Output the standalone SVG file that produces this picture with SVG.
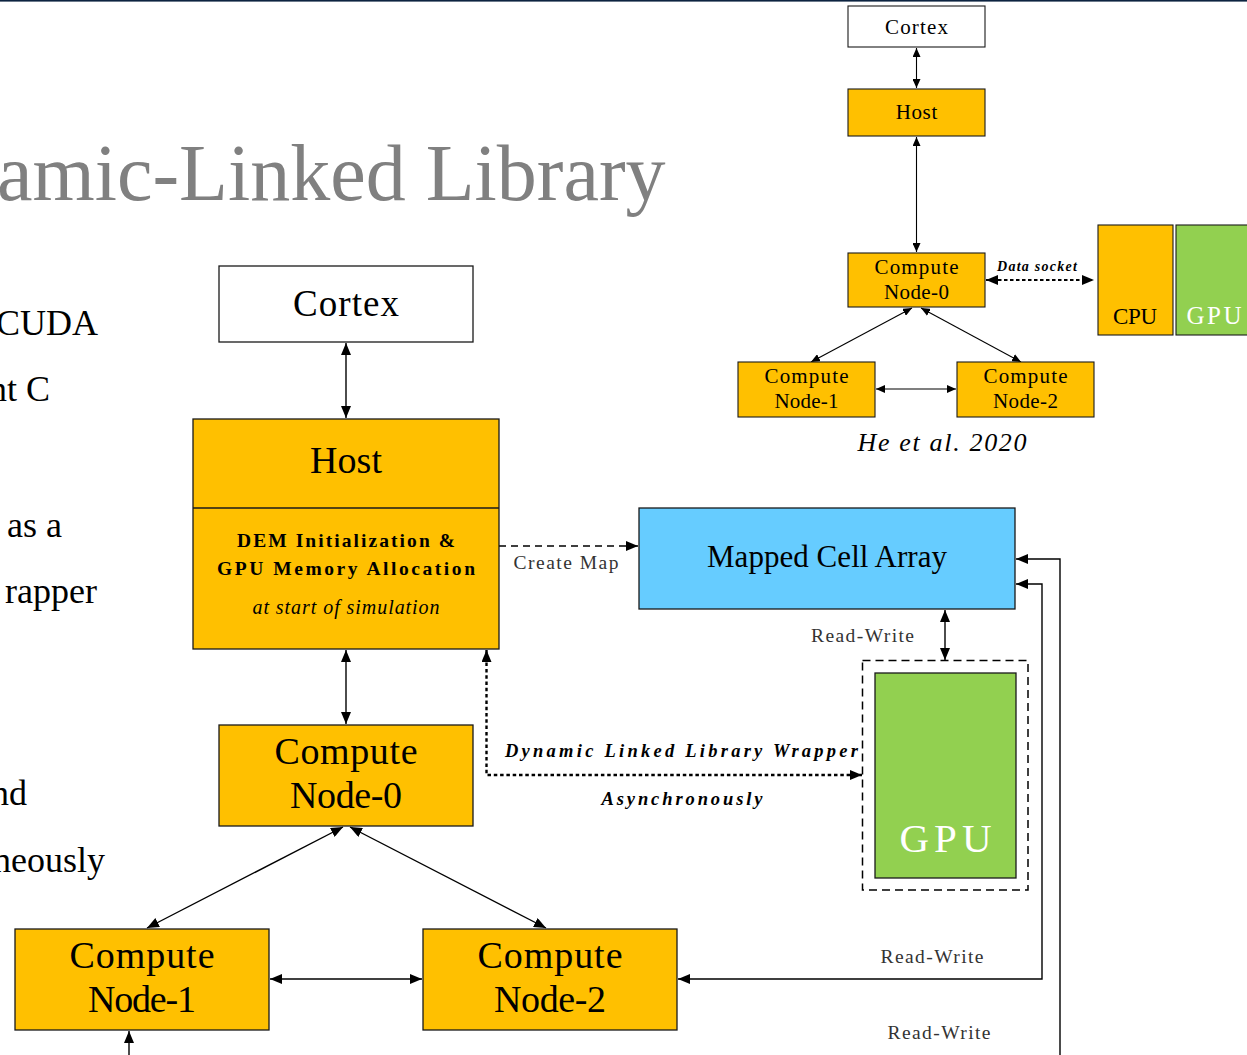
<svg xmlns="http://www.w3.org/2000/svg" width="1247" height="1055" viewBox="0 0 1247 1055">
<style>
.box{stroke:#1a1a1a;stroke-width:1.3}
.sbox{stroke:#1a1a1a;stroke-width:1.1}
.orange{fill:#ffc000}
.white{fill:#fff}
.blue{fill:#66ccff}
.green{fill:#92d050}
.t{font-family:"Liberation Serif","DejaVu Serif",serif;fill:#000}
.c{text-anchor:middle}
.e{text-anchor:end}
.ln{fill:none;stroke:#000;stroke-width:1.4}
.sln{fill:none;stroke:#000;stroke-width:1.1}
.dash{fill:none;stroke:#000;stroke-width:1.4;stroke-dasharray:7 5}
.dot{fill:none;stroke:#000;stroke-width:2.4;stroke-dasharray:3.5 2.8}
.lbl{font-size:19.5px;fill:#333}
.bi{font-weight:bold;font-style:italic}
</style>
<defs>
<marker id="ah" viewBox="0 0 12 10" refX="12" refY="5" markerWidth="12" markerHeight="10" markerUnits="userSpaceOnUse" orient="auto-start-reverse"><path d="M0,0 L12,5 L0,10 z" fill="#000"/></marker>
<marker id="ahs" viewBox="0 0 9 8" refX="9" refY="4" markerWidth="9" markerHeight="8" markerUnits="userSpaceOnUse" orient="auto-start-reverse"><path d="M0,0 L9,4 L0,8 z" fill="#000"/></marker>
</defs>

<!-- page rule and heading -->
<rect x="0" y="0" width="1247" height="1.6" fill="#0c2340"/>
<text class="t" x="-3" y="200" font-size="80" style="fill:#808080">amic-Linked Library</text>

<!-- body text -->
<g class="t e" font-size="36">
<text x="98" y="335">CUDA</text>
<text x="50" y="401">nt C</text>
<text x="62" y="537">as a</text>
<text x="97" y="603">rapper</text>
<text x="27" y="805">nd</text>
<text x="105" y="872">neously</text>
</g>

<!-- main diagram: connectors -->
<g id="connectors">
<path class="ln" d="M346,343 L346,418" marker-start="url(#ah)" marker-end="url(#ah)"/>
<path class="ln" d="M346,650 L346,724" marker-start="url(#ah)" marker-end="url(#ah)"/>
<path class="ln" d="M343,827 L147,928" marker-start="url(#ah)" marker-end="url(#ah)"/>
<path class="ln" d="M350,827 L546,928" marker-start="url(#ah)" marker-end="url(#ah)"/>
<path class="ln" d="M270,979 L422,979" marker-start="url(#ah)" marker-end="url(#ah)"/>
<path class="ln" d="M129,1055 L129,1031" marker-end="url(#ah)"/>
<path class="dash" d="M499,546 L638,546" marker-end="url(#ah)"/>
<path class="ln" d="M945,610 L945,660" marker-start="url(#ah)" marker-end="url(#ah)"/>
<path class="dot" d="M486.5,650 L486.5,775 L862,775" marker-start="url(#ah)" marker-end="url(#ah)"/>
<path class="ln" d="M678,979 L1042,979 L1042,584 L1016,584" marker-start="url(#ah)" marker-end="url(#ah)"/>
<path class="ln" d="M1060,1055 L1060,559 L1016,559" marker-end="url(#ah)"/>
<g class="t c lbl">
<text x="566" y="569" textLength="105">Create Map</text>
<text x="862.5" y="642" textLength="103">Read-Write</text>
<text x="932" y="963" textLength="103">Read-Write</text>
<text x="939" y="1039" textLength="103">Read-Write</text>
</g>
<g class="t c bi" font-size="18.5">
<text x="681.5" y="757" textLength="353">Dynamic Linked Library Wrapper</text>
<text x="682" y="805" textLength="161">Asynchronously</text>
</g>
</g>

<!-- main diagram: nodes -->
<g id="cortex">
<rect class="box white" x="219" y="266" width="254" height="76"/>
<text class="t c" x="346" y="316" font-size="37" textLength="106">Cortex</text>
</g>
<g id="host">
<rect class="box orange" x="193" y="419" width="306" height="230"/>
<line class="box" x1="193" y1="508" x2="499" y2="508"/>
<text class="t c" x="346" y="473" font-size="38" textLength="72">Host</text>
<text class="t c" x="346" y="547" font-size="19.5" font-weight="bold" textLength="218">DEM Initialization &amp;</text>
<text class="t c" x="346" y="575" font-size="19.5" font-weight="bold" textLength="258">GPU Memory Allocation</text>
<text class="t c" x="346" y="614" font-size="20" font-style="italic" textLength="187">at start of simulation</text>
</g>
<g id="node0">
<rect class="box orange" x="219" y="725" width="254" height="101"/>
<text class="t c" x="346" y="764" font-size="38" textLength="143">Compute</text>
<text class="t c" x="346" y="808" font-size="38" textLength="112">Node-0</text>
</g>
<g id="node1">
<rect class="box orange" x="15" y="929" width="254" height="101"/>
<text class="t c" x="142" y="968" font-size="38" textLength="145">Compute</text>
<text class="t c" x="142" y="1012" font-size="38" textLength="108">Node-1</text>
</g>
<g id="node2">
<rect class="box orange" x="423" y="929" width="254" height="101"/>
<text class="t c" x="550" y="968" font-size="38" textLength="145">Compute</text>
<text class="t c" x="550" y="1012" font-size="38" textLength="112">Node-2</text>
</g>
<g id="mapped">
<rect class="box blue" x="639" y="508" width="376" height="101"/>
<text class="t c" x="827" y="567" font-size="31" textLength="240">Mapped Cell Array</text>
</g>
<g id="gpu">
<rect x="862.5" y="660.5" width="165.5" height="229.5" fill="none" stroke="#000" stroke-width="1.5" stroke-dasharray="8 5"/>
<rect class="box green" x="875" y="673" width="141" height="205"/>
<text class="t c" x="945.5" y="852" font-size="41" textLength="92" style="fill:#fff">GPU</text>
</g>

<!-- small diagram -->
<g id="small-connectors">
<path class="sln" d="M916.5,48 L916.5,88" marker-start="url(#ahs)" marker-end="url(#ahs)"/>
<path class="sln" d="M916.5,137 L916.5,252" marker-start="url(#ahs)" marker-end="url(#ahs)"/>
<path class="sln" d="M912,308 L811,362" marker-start="url(#ahs)" marker-end="url(#ahs)"/>
<path class="sln" d="M921,308 L1021,362" marker-start="url(#ahs)" marker-end="url(#ahs)"/>
<path class="sln" d="M876,389 L956,389" marker-start="url(#ahs)" marker-end="url(#ahs)"/>
<path fill="none" stroke="#000" stroke-width="2" stroke-dasharray="3.5 2.5" d="M986,280 L1094,280" marker-start="url(#ah)" marker-end="url(#ah)"/>
<text class="t c bi" x="1037" y="271" font-size="14" textLength="80">Data socket</text>
</g>
<g id="s-cortex">
<rect class="sbox white" x="848" y="6" width="137" height="41"/>
<text class="t c" x="916.5" y="34" font-size="21" textLength="63">Cortex</text>
</g>
<g id="s-host">
<rect class="sbox orange" x="848" y="89" width="137" height="47"/>
<text class="t c" x="916.5" y="119" font-size="21" textLength="41.5">Host</text>
</g>
<g id="s-node0">
<rect class="sbox orange" x="848" y="253" width="137" height="54"/>
<text class="t c" x="916.5" y="274" font-size="21" textLength="84">Compute</text>
<text class="t c" x="916.5" y="299" font-size="21" textLength="65">Node-0</text>
</g>
<g id="s-node1">
<rect class="sbox orange" x="738" y="362" width="137" height="55"/>
<text class="t c" x="806.5" y="383" font-size="21" textLength="84">Compute</text>
<text class="t c" x="806.5" y="408" font-size="21" textLength="64">Node-1</text>
</g>
<g id="s-node2">
<rect class="sbox orange" x="957" y="362" width="137" height="55"/>
<text class="t c" x="1025.5" y="383" font-size="21" textLength="84">Compute</text>
<text class="t c" x="1025.5" y="408" font-size="21" textLength="65">Node-2</text>
</g>
<g id="s-cpu">
<rect class="sbox orange" x="1098" y="225" width="75" height="110"/>
<text class="t c" x="1135" y="324" font-size="23" textLength="44">CPU</text>
</g>
<g id="s-gpu">
<rect class="sbox green" x="1176" y="225" width="80" height="110"/>
<text class="t c" x="1214" y="324" font-size="25" textLength="55" style="fill:#fff">GPU</text>
</g>
<text class="t c" x="942" y="451" font-size="26" font-style="italic" textLength="169">He et al. 2020</text>
</svg>
